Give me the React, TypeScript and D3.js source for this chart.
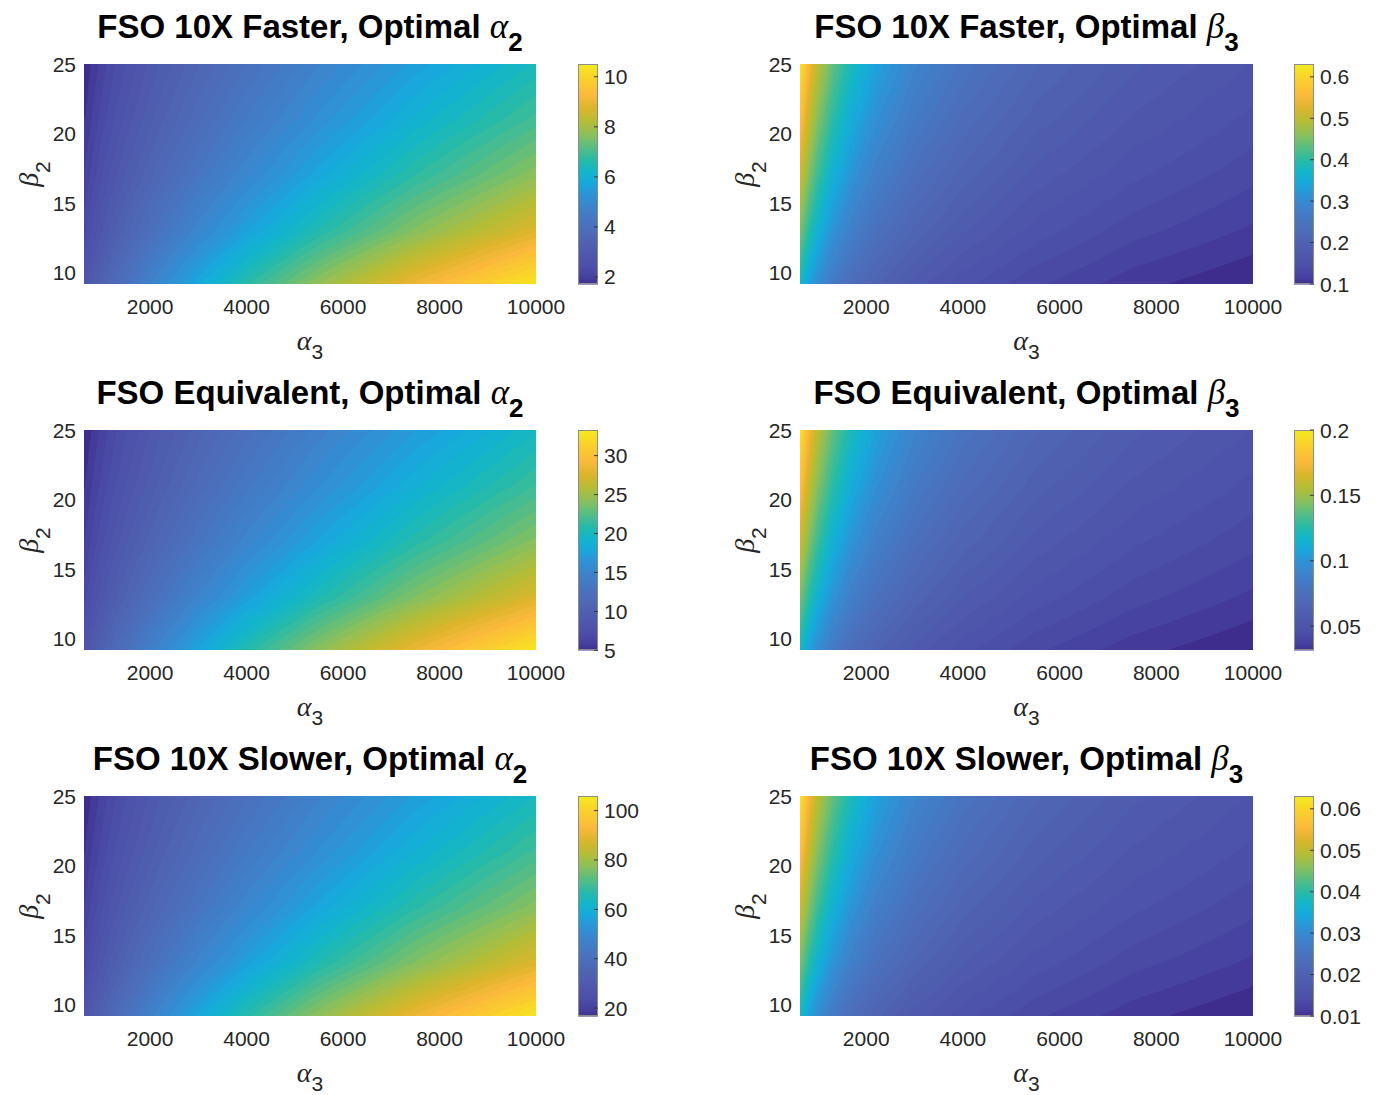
import React, { useEffect, useRef } from "react";
import * as d3 from "d3";

// sample grid: alpha3 columns, beta2 rows (bottom -> top)
const alpha3 = [630, 800, 1000, 1300, 1700, 2200, 3000, 4000, 5500, 7500, 10000];
const beta2 = [9.2, 13, 17, 21, 25];

const fasterAlpha2 = [
  [2.78, 3.12, 3.47, 3.94, 4.48, 5.08, 5.89, 6.77, 7.89, 9.16, 10.51],
  [2.36, 2.64, 2.94, 3.34, 3.8, 4.3, 4.99, 5.73, 6.68, 7.76, 8.9],
  [2.07, 2.32, 2.59, 2.93, 3.34, 3.78, 4.39, 5.04, 5.87, 6.82, 7.83],
  [1.87, 2.1, 2.34, 2.65, 3.01, 3.41, 3.96, 4.55, 5.3, 6.16, 7.07],
  [1.72, 1.93, 2.15, 2.44, 2.77, 3.14, 3.64, 4.18, 4.87, 5.66, 6.5],
];
const fasterBeta3 = [
  [0.387, 0.344, 0.309, 0.272, 0.238, 0.21, 0.18, 0.157, 0.134, 0.115, 0.1],
  [0.458, 0.408, 0.366, 0.322, 0.282, 0.249, 0.214, 0.186, 0.159, 0.136, 0.119],
  [0.522, 0.465, 0.417, 0.367, 0.322, 0.283, 0.244, 0.212, 0.181, 0.156, 0.135],
  [0.579, 0.516, 0.462, 0.407, 0.357, 0.315, 0.27, 0.235, 0.201, 0.173, 0.15],
  [0.631, 0.561, 0.503, 0.443, 0.389, 0.343, 0.294, 0.256, 0.219, 0.188, 0.163],
];
const equivAlpha2 = [
  [8.33, 9.4, 10.5, 11.98, 13.7, 15.58, 18.22, 21.04, 24.66, 28.83, 33.29],
  [7.01, 7.9, 8.83, 10.07, 11.52, 13.11, 15.31, 17.7, 20.75, 24.25, 27.98],
  [6.13, 6.91, 7.73, 8.81, 10.07, 11.46, 13.39, 15.46, 18.14, 21.18, 24.47],
  [5.51, 6.21, 6.95, 7.92, 9.05, 10.3, 12.04, 13.91, 16.31, 19.06, 22.01],
  [5.05, 5.69, 6.36, 7.26, 8.3, 9.44, 11.04, 12.75, 14.94, 17.47, 20.17],
];
const equivBeta3 = [
  [0.1226, 0.1091, 0.0978, 0.0861, 0.0755, 0.0666, 0.0572, 0.0497, 0.0425, 0.0365, 0.0317],
  [0.1452, 0.1292, 0.1159, 0.1019, 0.0894, 0.0788, 0.0677, 0.0589, 0.0504, 0.0433, 0.0376],
  [0.1656, 0.1473, 0.1321, 0.1162, 0.1019, 0.0898, 0.0772, 0.0671, 0.0574, 0.0493, 0.0429],
  [0.1837, 0.1634, 0.1465, 0.1289, 0.1131, 0.0997, 0.0857, 0.0744, 0.0637, 0.0547, 0.0475],
  [0.2, 0.1779, 0.1595, 0.1404, 0.1232, 0.1086, 0.0932, 0.081, 0.0693, 0.0596, 0.0517],
];
const slowerAlpha2 = [
  [27.4, 30.8, 34.3, 39.0, 44.5, 50.5, 58.7, 67.7, 79.0, 92.0, 105.9],
  [23.1, 26.0, 29.0, 33.0, 37.6, 42.6, 49.6, 57.1, 66.7, 77.7, 89.3],
  [20.3, 22.8, 25.4, 28.9, 33.0, 37.4, 43.5, 50.1, 58.5, 68.1, 78.4],
  [18.3, 20.6, 22.9, 26.1, 29.7, 33.7, 39.2, 45.2, 52.7, 61.4, 70.7],
  [16.8, 18.9, 21.1, 23.9, 27.3, 30.9, 36.0, 41.5, 48.5, 56.4, 64.9],
];
const slowerBeta3 = [
  [0.0387, 0.0344, 0.0309, 0.0272, 0.0238, 0.021, 0.018, 0.0157, 0.0134, 0.0115, 0.01],
  [0.0458, 0.0408, 0.0366, 0.0322, 0.0282, 0.0249, 0.0214, 0.0186, 0.0159, 0.0136, 0.0119],
  [0.0522, 0.0465, 0.0417, 0.0367, 0.0322, 0.0283, 0.0244, 0.0212, 0.0181, 0.0156, 0.0135],
  [0.0579, 0.0516, 0.0462, 0.0407, 0.0357, 0.0315, 0.027, 0.0235, 0.0201, 0.0173, 0.015],
  [0.0631, 0.0561, 0.0503, 0.0443, 0.0389, 0.0343, 0.0294, 0.0256, 0.0219, 0.0188, 0.0163],
];

const xTicks = [2000, 4000, 6000, 8000, 10000];
const yTicks = [10, 15, 20, 25];

const panels = [
  { title: "FSO 10X Faster, Optimal ", sym: "α", sub: "2", grid: fasterAlpha2, cbTicks: [2, 4, 6, 8, 10] },
  { title: "FSO 10X Faster, Optimal ", sym: "β", sub: "3", grid: fasterBeta3, cbTicks: [0.1, 0.2, 0.3, 0.4, 0.5, 0.6] },
  { title: "FSO Equivalent, Optimal ", sym: "α", sub: "2", grid: equivAlpha2, cbTicks: [5, 10, 15, 20, 25, 30] },
  { title: "FSO Equivalent, Optimal ", sym: "β", sub: "3", grid: equivBeta3, cbTicks: [0.05, 0.1, 0.15, 0.2] },
  { title: "FSO 10X Slower, Optimal ", sym: "α", sub: "2", grid: slowerAlpha2, cbTicks: [20, 40, 60, 80, 100] },
  { title: "FSO 10X Slower, Optimal ", sym: "β", sub: "3", grid: slowerBeta3, cbTicks: [0.01, 0.02, 0.03, 0.04, 0.05, 0.06] },
];

// parula-like colormap, sampled from the picture's colorbars
const cmapPos = [0, 0.03, 0.08, 0.14, 0.2, 0.27, 0.34, 0.41, 0.46, 0.51, 0.56, 0.62, 0.68, 0.74, 0.8, 0.86, 0.93, 1];
const cmapColors = ["#3f2d8e", "#46409e", "#4c4fa8", "#4f59ad", "#4f64b3", "#4b71bd", "#4080ca", "#2d94d6", "#18a8dc", "#12b5cc", "#25baaa", "#55bd84", "#8ac05c", "#b5bd36", "#dbb52c", "#fbb93c", "#fbcf2e", "#f4ea1c"];
const cmap = d3.scaleLinear<string>().domain(cmapPos).range(cmapColors).interpolate(d3.interpolateRgb).clamp(true);

const sans = "'Liberation Sans', Arial, Helvetica, sans-serif";
const serif = "'Liberation Serif', 'Times New Roman', serif";
const tickColor = "#262626";

function sample(grid: number[][], xv: number, yv: number) {
  const i = Math.max(0, Math.min(alpha3.length - 2, d3.bisectRight(alpha3, xv) - 1));
  const j = Math.max(0, Math.min(beta2.length - 2, d3.bisectRight(beta2, yv) - 1));
  const tx = (xv - alpha3[i]) / (alpha3[i + 1] - alpha3[i]);
  const ty = (yv - beta2[j]) / (beta2[j + 1] - beta2[j]);
  const a = grid[j][i] * (1 - tx) + grid[j][i + 1] * tx;
  const b = grid[j + 1][i] * (1 - tx) + grid[j + 1][i + 1] * tx;
  return a * (1 - ty) + b * ty;
}

export default function App() {
  const ref = useRef<SVGSVGElement>(null);

  useEffect(() => {
    document.body.style.margin = "0";
    const svg = d3.select(ref.current);
    svg.selectAll("*").remove();

    panels.forEach((p, k) => {
      const col = k % 2;
      const row = Math.floor(k / 2);
      const left = col === 0 ? 84 : 800;
      const w = col === 0 ? 452 : 453;
      const top = 64 + row * 366;
      const h = 220;

      const x = d3.scaleLinear().domain([630, 10000]).range([left, left + w]);
      const y = d3.scaleLinear().domain([9.2, 25]).range([top + h, top]);
      const [vmin, vmax] = d3.extent(p.grid.flat()) as [number, number];
      const color = (v: number) => cmap((v - vmin) / (vmax - vmin));

      const g = svg.append("g");

      // filled contours
      const nx = 226, ny = 110;
      const values = new Array(nx * ny);
      for (let j = 0; j < ny; j++) {
        for (let i = 0; i < nx; i++) {
          const xv = x.invert(left + ((i + 0.5) * w) / nx);
          const yv = y.invert(top + ((j + 0.5) * h) / ny);
          values[j * nx + i] = sample(p.grid, xv, yv);
        }
      }
      const nLevels = 50;
      const levels = d3.range(1, nLevels).map((i) => vmin + ((vmax - vmin) * i) / nLevels);
      const contours = d3.contours().size([nx, ny]).thresholds(levels)(values);
      const proj = d3.geoTransform({
        point(px: number, py: number) {
          this.stream.point(left + (px * w) / nx, top + (py * h) / ny);
        },
      });
      const path = d3.geoPath(proj);
      g.append("rect").attr("x", left).attr("y", top).attr("width", w).attr("height", h).attr("fill", color(vmin));
      g.selectAll("path.band")
        .data(contours)
        .join("path")
        .attr("class", "band")
        .attr("d", (d: any) => path(d) as string)
        .attr("fill", (d: any) => color(d.value));

      // tick labels
      g.selectAll("text.xt")
        .data(xTicks)
        .join("text")
        .attr("class", "xt")
        .attr("x", (d) => x(d))
        .attr("y", top + h + 30)
        .attr("text-anchor", "middle")
        .attr("font-family", sans)
        .attr("font-size", 21)
        .attr("fill", tickColor)
        .text((d) => String(d));
      g.selectAll("text.yt")
        .data(yTicks)
        .join("text")
        .attr("class", "yt")
        .attr("x", left - 8)
        .attr("y", (d) => y(d) + 7.5)
        .attr("text-anchor", "end")
        .attr("font-family", sans)
        .attr("font-size", 21)
        .attr("fill", tickColor)
        .text((d) => String(d));

      // axis labels
      const xl = g.append("text")
        .attr("x", left + w / 2)
        .attr("y", top + h + 66)
        .attr("text-anchor", "middle")
        .attr("fill", tickColor);
      xl.append("tspan").attr("font-family", serif).attr("font-style", "italic").attr("font-size", 28).text("α");
      xl.append("tspan").attr("font-family", sans).attr("font-size", 21).attr("dy", 9).text("3");

      const yl = g.append("text")
        .attr("transform", `translate(${col === 0 ? 38 : 754},${top + h / 2}) rotate(-90)`)
        .attr("text-anchor", "middle")
        .attr("fill", tickColor);
      yl.append("tspan").attr("font-family", serif).attr("font-style", "italic").attr("font-size", 28).text("β");
      yl.append("tspan").attr("font-family", sans).attr("font-size", 21).attr("dy", 12).text("2");

      // title
      const t = g.append("text")
        .attr("x", left + w / 2)
        .attr("y", top - 26)
        .attr("text-anchor", "middle")
        .attr("fill", "#000")
        .attr("font-family", sans)
        .attr("font-weight", "bold")
        .attr("font-size", 33);
      t.append("tspan").text(p.title);
      t.append("tspan").attr("font-family", serif).attr("font-style", "italic").attr("font-weight", "normal").attr("font-size", 35).text(p.sym);
      t.append("tspan").attr("font-size", 26).attr("dy", 13).text(p.sub);

      // colorbar
      const cbLeft = left + 494;
      const cbW = 20;
      const cy = d3.scaleLinear().domain([vmin, vmax]).range([top + h, top]);
      const nSteps = 110;
      g.selectAll("rect.cb")
        .data(d3.range(nSteps))
        .join("rect")
        .attr("class", "cb")
        .attr("x", cbLeft)
        .attr("y", (i) => top + h - ((i + 1) * h) / nSteps)
        .attr("width", cbW)
        .attr("height", h / nSteps + 0.5)
        .attr("fill", (i) => cmap((i + 0.5) / nSteps));
      g.append("rect")
        .attr("x", cbLeft + 0.5)
        .attr("y", top + 0.5)
        .attr("width", cbW - 1)
        .attr("height", h - 1)
        .attr("fill", "none")
        .attr("stroke", "#8c8c8c")
        .attr("stroke-width", 1);
      g.selectAll("line.cbt")
        .data(p.cbTicks)
        .join("line")
        .attr("class", "cbt")
        .attr("x1", cbLeft + cbW - 4)
        .attr("x2", cbLeft + cbW)
        .attr("y1", (d) => cy(d))
        .attr("y2", (d) => cy(d))
        .attr("stroke", "#3a3a3a")
        .attr("stroke-width", 1);
      g.selectAll("text.cbl")
        .data(p.cbTicks)
        .join("text")
        .attr("class", "cbl")
        .attr("x", cbLeft + cbW + 6)
        .attr("y", (d) => cy(d) + 7.5)
        .attr("font-family", sans)
        .attr("font-size", 21)
        .attr("fill", tickColor)
        .text((d) => String(d));
    });
  }, []);

  return <svg ref={ref} width={1375} height={1095} style={{ display: "block", background: "#fff" }} />;
}
